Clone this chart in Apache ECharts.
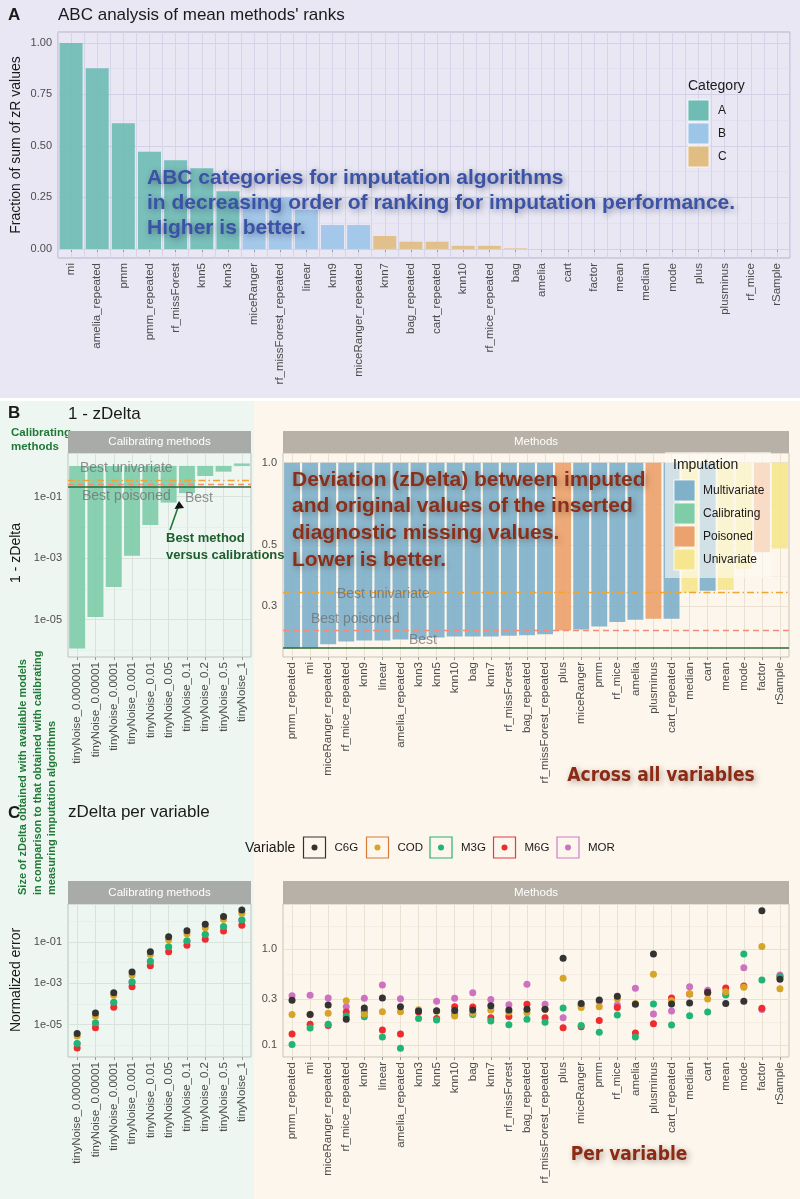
<!DOCTYPE html>
<html>
<head>
<meta charset="utf-8">
<script src="https://cdn.jsdelivr.net/npm/echarts@6/dist/echarts.min.js"></script>
<style>
html, body { margin: 0; padding: 0; background: #fff; }
#wrap { position: relative; width: 800px; height: 1199px; overflow: hidden; }
.bg { position: absolute; }
#chart { position: absolute; left: 0; top: 0; width: 800px; height: 1199px; }
</style>
</head>
<body>
<div id="wrap">
  <div class="bg" style="left:0;top:0;width:800px;height:398px;background:#e8e7f3"></div>
  <div class="bg" style="left:0;top:401px;width:254px;height:798px;background:#edf6f1"></div>
  <div class="bg" style="left:254px;top:401px;width:546px;height:798px;background:#fdf6ec"></div>
  <div id="chart"></div>
</div>
<script>
const FONT = '"Liberation Sans", Arial, sans-serif'
const NARROW = '"Liberation Sans Narrow", "DejaVu Sans Condensed", "Liberation Sans", sans-serif'

// panel A: ABC analysis
const abcMethods = ['mi', 'amelia_repeated', 'pmm', 'pmm_repeated', 'rf_missForest', 'knn5', 'knn3', 'miceRanger',
  'rf_missForest_repeated', 'linear', 'knn9', 'miceRanger_repeated', 'knn7', 'bag_repeated', 'cart_repeated', 'knn10',
  'rf_mice_repeated', 'bag', 'amelia', 'cart', 'factor', 'mean', 'median', 'mode', 'plus', 'plusminus', 'rf_mice', 'rSample']
const abcShare = [1.00, 0.877, 0.61, 0.472, 0.43, 0.392, 0.28, 0.25, 0.25, 0.19, 0.116, 0.116, 0.063, 0.035, 0.035, 0.015,
  0.015, 0.003, 0, 0, 0, 0, 0, 0, 0, 0, 0, 0]
const abcClass = ['A', 'A', 'A', 'A', 'A', 'A', 'A', 'B', 'B', 'B', 'B', 'B', 'C', 'C', 'C', 'C',
  'C', 'C', 'C', 'C', 'C', 'C', 'C', 'C', 'C', 'C', 'C', 'C']
const abcTicks = [0, 0.25, 0.5, 0.75, 1]
const abcMinor = [0.125, 0.375, 0.625, 0.875]

// panel B: 1 - zDelta
const calibMethods = ['tinyNoise_0.000001', 'tinyNoise_0.00001', 'tinyNoise_0.0001', 'tinyNoise_0.001', 'tinyNoise_0.01',
  'tinyNoise_0.05', 'tinyNoise_0.1', 'tinyNoise_0.2', 'tinyNoise_0.5', 'tinyNoise_1']
const calibScore = [1.15e-6, 1.2e-5, 1.15e-4, 1.2e-3, 1.2e-2, 0.064, 0.13, 0.47, 0.65, 1.2]
const methods = ['pmm_repeated', 'mi', 'miceRanger_repeated', 'rf_mice_repeated', 'knn9', 'linear', 'amelia_repeated',
  'knn3', 'knn5', 'knn10', 'bag', 'knn7', 'rf_missForest', 'bag_repeated', 'rf_missForest_repeated', 'plus', 'miceRanger',
  'pmm', 'rf_mice', 'amelia', 'plusminus', 'cart_repeated', 'median', 'cart', 'mean', 'mode', 'factor', 'rSample']
const methodScore = [0.211, 0.212, 0.218, 0.223, 0.225, 0.225, 0.227, 0.228, 0.231, 0.233, 0.233, 0.233, 0.234, 0.235,
  0.237, 0.245, 0.247, 0.253, 0.263, 0.268, 0.27, 0.27, 0.336, 0.342, 0.344, 0.411, 0.472, 0.487]
const methodKind = ['Multivariate', 'Multivariate', 'Multivariate', 'Multivariate', 'Multivariate', 'Multivariate',
  'Multivariate', 'Multivariate', 'Multivariate', 'Multivariate', 'Multivariate', 'Multivariate', 'Multivariate',
  'Multivariate', 'Multivariate', 'Poisoned', 'Multivariate', 'Multivariate', 'Multivariate', 'Multivariate', 'Poisoned',
  'Multivariate', 'Univariate', 'Multivariate', 'Univariate', 'Univariate', 'Poisoned', 'Univariate']
const bestUnivariate = 0.336
const bestPoisoned = 0.245
const bestOverall = 0.211
const logTicks = [1e-5, 1e-3, 1e-1]
const logMinor = [1e-6, 1e-4, 1e-2, 1]
const bTicks = [0.3, 0.5, 1.0]
const bMinor = [0.387, 0.707]

// panel C: zDelta per variable
const varNames = ['C6G', 'COD', 'M3G', 'M6G', 'MOR']
const calibC6G = [3.7e-6, 3.6e-5, 3.5e-4, 3.5e-3, 3.4e-2, 0.18, 0.35, 0.72, 1.74, 3.6]
const calibCOD = [2.8e-6, 2.6e-5, 2.6e-4, 2.5e-3, 2.5e-2, 0.13, 0.25, 0.5, 1.29, 2.5]
const calibM3G = [1.2e-6, 1.2e-5, 1.2e-4, 1.2e-3, 1.17e-2, 5.9e-2, 0.115, 0.234, 0.56, 1.2]
const calibM6G = [7.2e-7, 6.9e-6, 6.9e-5, 6.8e-4, 7.1e-3, 3.4e-2, 6.9e-2, 0.138, 0.34, 0.65]
const calibMOR = [1.15e-6, 1.1e-5, 1.15e-4, 1.1e-3, 1.15e-2, 5.8e-2, 0.107, 0.23, 0.54, 1.12]
const methC6G = [0.293, 0.209, 0.262, 0.186, 0.244, 0.31, 0.251, 0.227, 0.228, 0.23, 0.232, 0.257, 0.232, 0.236, 0.236,
  0.80, 0.272, 0.295, 0.322, 0.266, 0.887, 0.268, 0.274, 0.355, 0.272, 0.286, 2.5, 0.484]
const methCOD = [0.208, 0.21, 0.215, 0.29, 0.211, 0.223, 0.223, 0.234, 0.225, 0.201, 0.215, 0.232, 0.22, 0.218, 0.236,
  0.496, 0.246, 0.251, 0.304, 0.272, 0.546, 0.29, 0.343, 0.302, 0.36, 0.40, 1.06, 0.387]
const methM3G = [0.102, 0.151, 0.165, 0.201, 0.198, 0.122, 0.093, 0.19, 0.183, 0.208, 0.209, 0.179, 0.163, 0.186, 0.173,
  0.244, 0.16, 0.136, 0.206, 0.122, 0.268, 0.162, 0.202, 0.221, 0.333, 0.887, 0.476, 0.515]
const methM6G = [0.131, 0.165, 0.16, 0.221, 0.224, 0.144, 0.131, 0.221, 0.19, 0.251, 0.25, 0.193, 0.199, 0.266, 0.193,
  0.152, 0.156, 0.181, 0.246, 0.134, 0.167, 0.31, 0.34, 0.35, 0.393, 0.413, 0.242, 0.515]
const methMOR = [0.327, 0.33, 0.31, 0.251, 0.307, 0.422, 0.304, 0.228, 0.286, 0.307, 0.351, 0.298, 0.264, 0.43, 0.266,
  0.193, 0.26, 0.286, 0.262, 0.39, 0.211, 0.227, 0.406, 0.372, 0.34, 0.64, 0.235, 0.537]
const cTicks = [0.1, 0.3, 1.0]
const cMinor = [0.173, 0.548, 1.73]

const abcColor = { A: '#6fbcb5', B: '#9dc5e8', C: '#e0bd82' }
const kindColor = { Multivariate: '#80b1ca', Calibrating: '#7fcca9', Poisoned: '#eba26c', Univariate: '#f5e68f' }
const varColor = { C6G: '#333333', COD: '#d5a52a', M3G: '#20b574', M6G: '#ee2c30', MOR: '#cd72c1' }
const varBox = { C6G: '#333333', COD: '#d67b3c', M3G: '#2cb072', M6G: '#e8383c', MOR: '#d27bc7' }
const calibByVar = { C6G: calibC6G, COD: calibCOD, M3G: calibM3G, M6G: calibM6G, MOR: calibMOR }
const methByVar = { C6G: methC6G, COD: methCOD, M3G: methM3G, M6G: methM6G, MOR: methMOR }

const fmtLog = v => {
  const e = Math.round(Math.log10(v))
  return '1e' + (e < 0 ? '-' : '+') + String(Math.abs(e)).padStart(2, '0')
}

function catAxis (g, data) {
  return {
    type: 'category', gridIndex: g, data: data, position: 'bottom',
    axisLine: { show: false },
    axisTick: { show: true, alignWithLabel: true, length: 3, lineStyle: { color: '#9a9a9a' } },
    axisLabel: { interval: 0, rotate: 90, fontSize: 11.5, color: '#4d4d4d', fontFamily: FONT, margin: 5 },
    splitLine: { show: false }
  }
}
// hidden axis that only draws the vertical grid lines
function lineAxis (g, n, both, color) {
  return {
    type: 'value', gridIndex: g, position: 'top', min: -0.5, max: n - 0.5, interval: 0.5,
    axisLine: { show: false }, axisTick: { show: false }, axisLabel: { show: false },
    splitLine: { show: true, lineStyle: { color: both ? color : ['transparent', color], width: 1 } }
  }
}
function valAxis (g, type, min, max) {
  return {
    type: type, gridIndex: g, min: min, max: max,
    axisLine: { show: false }, axisTick: { show: false }, axisLabel: { show: false }, splitLine: { show: false }
  }
}
function yGrid (major, minor, fmt, cMajor, cMinor) {
  const data = major.map(v => ({ yAxis: v, lineStyle: { color: cMajor, width: 1, type: 'solid' }, label: { show: true, formatter: fmt(v) } }))
    .concat(minor.map(v => ({ yAxis: v, lineStyle: { color: cMinor, width: 0.6, type: 'solid' }, label: { show: false } })))
  return {
    silent: true, symbol: ['none', 'none'], z: 1, animation: false, precision: 12,
    label: { show: false, position: 'start', distance: 6, color: '#4d4d4d', fontSize: 11, fontFamily: FONT },
    data: data
  }
}
function refLines () {
  return {
    silent: true, symbol: ['none', 'none'], animation: false, precision: 12, label: { show: false },
    data: [
      { yAxis: bestUnivariate, lineStyle: { color: '#f0a431', width: 1.4, type: [7, 3, 1.5, 3] } },
      { yAxis: bestPoisoned, lineStyle: { color: '#f58b76', width: 1.4, type: [6, 4] } },
      { yAxis: bestOverall, lineStyle: { color: '#2c6a37', width: 1.5, type: 'solid' } }
    ]
  }
}

// annotations and legends
const G = []
function T (x, y, text, st, rot) {
  const s = Object.assign({ text: text, fontFamily: FONT, fontSize: 12, fill: '#1a1a1a', align: 'left', verticalAlign: 'middle' }, st || {})
  s.textAlign = s.align
  s.textVerticalAlign = s.verticalAlign
  G.push({ type: 'text', x: x, y: y, rotation: rot || 0, z: 100, silent: true, style: s })
}
function R (x, y, w, h, st) {
  G.push({ type: 'rect', shape: { x: x, y: y, width: w, height: h }, z: 100, silent: true, style: st })
}
const blueShadow = { textShadowColor: 'rgba(30,30,70,0.45)', textShadowBlur: 6, textShadowOffsetX: 2, textShadowOffsetY: 2 }
const redShadow = { textShadowColor: 'rgba(60,30,20,0.4)', textShadowBlur: 6, textShadowOffsetX: 2, textShadowOffsetY: 2 }
const greyLab = { fontSize: 14, fill: 'rgba(110,110,110,0.75)' }
const greenBold = { fontWeight: 'bold', fill: '#1f7a38' }

// A
T(8, 15, 'A', { fontWeight: 'bold', fontSize: 17 })
T(58, 15, "ABC analysis of mean methods' ranks", { fontSize: 17 })
T(16, 145, 'Fraction of sum of zR values', { fontSize: 14, align: 'center' }, Math.PI / 2)
T(688, 86, 'Category', { fontSize: 14 })
;['A', 'B', 'C'].forEach((k, i) => {
  R(688, 100 + i * 23, 21, 21, { fill: abcColor[k], stroke: '#ffffff', lineWidth: 0.8 })
  T(718, 110.5 + i * 23, k, { fontSize: 12 })
})
;['ABC categories for imputation algorithms', 'in decreasing order of ranking for imputation performance.', 'Higher is better.']
  .forEach((s, i) => T(147, 178 + i * 25, s, Object.assign({ fontSize: 21, fontWeight: 'bold', fill: '#3a53a6' }, blueShadow)))

// B
T(8, 413, 'B', { fontWeight: 'bold', fontSize: 17 })
T(68, 414, '1 - zDelta', { fontSize: 17 })
T(11, 433, 'Calibrating', Object.assign({ fontSize: 11.5 }, greenBold))
T(11, 447, 'methods', Object.assign({ fontSize: 11.5 }, greenBold))
R(68, 431, 183, 22, { fill: '#a8aba8' })
T(159.5, 442, 'Calibrating methods', { fontSize: 11.5, fill: '#ffffff', align: 'center' })
R(283, 431, 506, 22, { fill: '#b7b1a7' })
T(536, 442, 'Methods', { fontSize: 11.5, fill: '#ffffff', align: 'center' })
T(16, 553, '1 - zDelta', { fontSize: 14, align: 'center' }, Math.PI / 2)
T(80, 468, 'Best univariate', greyLab)
T(82, 496, 'Best poisoned', greyLab)
T(185, 498, 'Best', greyLab)
G.push({ type: 'line', z: 100, silent: true, shape: { x1: 170, y1: 530, x2: 178.5, y2: 506 }, style: { stroke: '#1e7a38', lineWidth: 1.6 } })
G.push({ type: 'polygon', z: 100, silent: true, shape: { points: [[179, 501], [174.5, 509], [184, 508]] }, style: { fill: '#111111' } })
T(166, 538, 'Best method', Object.assign({ fontSize: 13 }, greenBold, { fill: '#1b5e2c' }))
T(166, 555, 'versus calibrations', Object.assign({ fontSize: 13 }, greenBold, { fill: '#1b5e2c' }))
;['Deviation (zDelta) between imputed', 'and original values of the inserted', 'diagnostic missing values.', 'Lower is better.']
  .forEach((s, i) => T(292, 480 + i * 26.7, s, Object.assign({ fontSize: 21, fontWeight: 'bold', fill: '#8a2f1a' }, redShadow)))
T(337, 594, 'Best univariate', greyLab)
T(311, 619, 'Best poisoned', greyLab)
T(409, 640, 'Best', greyLab)
R(665, 452, 106, 126, { fill: 'rgba(253,250,244,0.62)' })
T(673, 465, 'Imputation', { fontSize: 14 })
;['Multivariate', 'Calibrating', 'Poisoned', 'Univariate'].forEach((k, i) => {
  R(674, 480 + i * 23, 21, 21, { fill: kindColor[k], stroke: '#ffffff', lineWidth: 0.8 })
  T(703, 490.5 + i * 23, k, { fontSize: 12 })
})
T(661, 776, 'Across all variables', Object.assign({ fontFamily: NARROW, fontSize: 19, fontWeight: 'bold', fill: '#8b2a15', align: 'center' }, redShadow))
;['Size of zDelta obtained with available models', 'in comparison to that obtained with calibrating', 'measuring imputation algorithms']
  .forEach((s, i) => T(23 + i * 14.5, 895, s, Object.assign({ fontSize: 11 }, greenBold), Math.PI / 2))

// C
T(8, 813, 'C', { fontWeight: 'bold', fontSize: 17 })
T(68, 812, 'zDelta per variable', { fontSize: 17 })
T(245, 848, 'Variable', { fontSize: 14 })
;[303.5, 366.5, 430, 493.5, 557].forEach((x, i) => {
  const v = varNames[i]
  R(x, 837, 22, 21, { fill: 'none', stroke: varBox[v], lineWidth: 1.2 })
  G.push({ type: 'circle', z: 100, silent: true, shape: { cx: x + 11, cy: 847.5, r: 3 }, style: { fill: varColor[v] } })
  T(x + 31, 848, v, { fontSize: 11.5 })
})
R(68, 881, 183, 23, { fill: '#a8aba8' })
T(159.5, 892.5, 'Calibrating methods', { fontSize: 11.5, fill: '#ffffff', align: 'center' })
R(283, 881, 506, 23, { fill: '#b7b1a7' })
T(536, 892.5, 'Methods', { fontSize: 11.5, fill: '#ffffff', align: 'center' })
T(16, 980, 'Normalized error', { fontSize: 14, align: 'center' }, Math.PI / 2)
T(629, 1155, 'Per variable', Object.assign({ fontFamily: NARROW, fontSize: 19, fontWeight: 'bold', fill: '#8b2a15', align: 'center' }, redShadow))

const leftGrid = { major: '#d9e3dd', minor: '#e3ebe6', border: '#bcc4bf' }
const rightGrid = { major: '#eae1d3', minor: '#f1e9dd', border: '#cbc3b6' }

const scatterOrder = ['MOR', 'M6G', 'M3G', 'COD', 'C6G']
const calibSeries = scatterOrder.map((v, i) => ({
  type: 'scatter', name: v, xAxisIndex: 6, yAxisIndex: 3, symbolSize: 7,
  itemStyle: { color: varColor[v], opacity: 1 }, data: calibByVar[v],
  markLine: i === 0 ? yGrid(logTicks, logMinor, fmtLog, leftGrid.major, leftGrid.minor) : undefined
}))
const methSeries = scatterOrder.map((v, i) => ({
  type: 'scatter', name: v, xAxisIndex: 8, yAxisIndex: 4, symbolSize: 7,
  itemStyle: { color: varColor[v], opacity: 1 }, data: methByVar[v],
  markLine: i === 0 ? yGrid(cTicks, cMinor, v => v.toFixed(1), rightGrid.major, rightGrid.minor) : undefined
}))

const option = {
  animation: false,
  textStyle: { fontFamily: FONT },
  grid: [
    { left: 58, top: 32, width: 732, height: 226, show: true, borderColor: '#b5b3ca', borderWidth: 1, backgroundColor: 'transparent' },
    { left: 68, top: 453, width: 183, height: 204, show: true, borderColor: leftGrid.border, borderWidth: 1, backgroundColor: 'transparent' },
    { left: 283, top: 453, width: 506, height: 204, show: true, borderColor: rightGrid.border, borderWidth: 1, backgroundColor: 'transparent' },
    { left: 68, top: 904, width: 183, height: 153, show: true, borderColor: leftGrid.border, borderWidth: 1, backgroundColor: 'transparent' },
    { left: 283, top: 904, width: 506, height: 153, show: true, borderColor: rightGrid.border, borderWidth: 1, backgroundColor: 'transparent' }
  ],
  xAxis: [
    catAxis(0, abcMethods), lineAxis(0, 28, true, '#d6d4e8'),
    catAxis(1, calibMethods), lineAxis(1, 10, false, leftGrid.major),
    catAxis(2, methods), lineAxis(2, 28, false, rightGrid.major),
    catAxis(3, calibMethods), lineAxis(3, 10, false, leftGrid.major),
    catAxis(4, methods), lineAxis(4, 28, false, rightGrid.major)
  ],
  yAxis: [
    valAxis(0, 'value', -0.044, 1.053),
    valAxis(1, 'log', 6.03e-7, 2.63),
    valAxis(2, 'log', 0.196, 1.085),
    valAxis(3, 'log', 2.65e-7, 7.0),
    valAxis(4, 'log', 0.0754, 2.94)
  ],
  series: [
    {
      type: 'bar', name: 'ABC', xAxisIndex: 0, yAxisIndex: 0, barWidth: '88%',
      data: abcShare.map((v, i) => ({ value: v, itemStyle: { color: abcColor[abcClass[i]] } })),
      itemStyle: { opacity: 0.92 },
      markLine: yGrid(abcTicks, abcMinor, v => v.toFixed(2), '#d3d1e6', '#dddbee')
    },
    {
      type: 'bar', name: 'Calibrating', xAxisIndex: 2, yAxisIndex: 1, barWidth: '87%',
      data: calibScore, itemStyle: { color: kindColor.Calibrating, opacity: 0.92 },
      markLine: yGrid(logTicks, logMinor, fmtLog, leftGrid.major, leftGrid.minor)
    },
    { type: 'line', name: 'refLeft', xAxisIndex: 2, yAxisIndex: 1, data: [], markLine: refLines() },
    {
      type: 'bar', name: 'Methods', xAxisIndex: 4, yAxisIndex: 2, barWidth: '88%',
      data: methodScore.map((v, i) => ({ value: v, itemStyle: { color: kindColor[methodKind[i]] } })),
      itemStyle: { opacity: 0.92 },
      markLine: yGrid(bTicks, bMinor, v => v.toFixed(1), rightGrid.major, rightGrid.minor)
    },
    { type: 'line', name: 'refRight', xAxisIndex: 4, yAxisIndex: 2, data: [], markLine: refLines() }
  ].concat(calibSeries, methSeries),
  graphic: { elements: G }
}

const chart = echarts.init(document.getElementById('chart'))
chart.setOption(option)
</script>
</body>
</html>
